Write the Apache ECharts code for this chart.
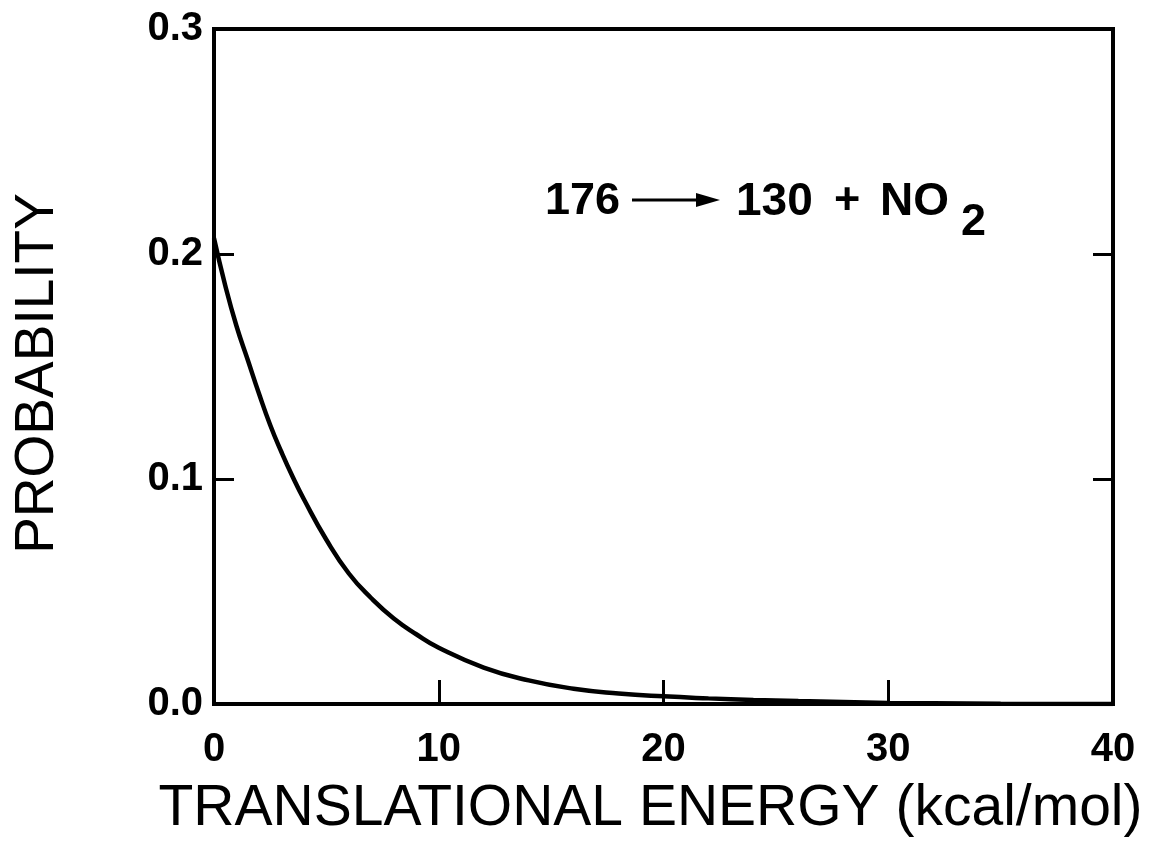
<!DOCTYPE html>
<html>
<head>
<meta charset="utf-8">
<script src="https://cdn.jsdelivr.net/npm/echarts@6/dist/echarts.min.js"></script>
<style>html,body{margin:0;padding:0;background:#fff}#c{width:1149px;height:843px}</style>
</head>
<body>
<div id="c"></div>
<script>
// Data
const energy = [0, 0.5, 1, 1.5, 2, 2.5, 3, 3.5, 4, 5, 6, 7, 8, 9, 10, 12, 14, 16, 18, 20, 22, 24, 26, 28, 30, 32, 35, 40];
const probability = [0.207, 0.186, 0.168, 0.153, 0.138, 0.124, 0.112, 0.101, 0.091, 0.073, 0.058, 0.047, 0.038, 0.031, 0.025, 0.0162, 0.0105, 0.0068, 0.0047, 0.0034, 0.0025, 0.0018, 0.0013, 0.0009, 0.0005, 0.0003, 0.0001, 0];
const xTicks = [0, 10, 20, 30, 40];
const yTicks = [0.0, 0.1, 0.2, 0.3];
const xTitle = 'TRANSLATIONAL ENERGY (kcal/mol)';
const yTitle = 'PROBABILITY';

const chart = echarts.init(document.getElementById('c'), null, {renderer: 'canvas'});
const F = 'Liberation Sans, Arial, Helvetica, sans-serif';
const pts = energy.map((e, i) => [e, probability[i]]);

chart.setOption({
  animation: false,
  backgroundColor: '#fff',
  grid: {left: 214, right: 36, top: 29, bottom: 137, show: true, borderColor: '#000', borderWidth: 4, backgroundColor: 'transparent'},
  xAxis: {
    type: 'value', min: xTicks[0], max: xTicks[xTicks.length - 1], interval: 10,
    axisLine: {show: false},
    axisTick: {show: true, inside: true, length: 24, lineStyle: {color: '#000', width: 3}},
    splitLine: {show: false},
    axisLabel: {color: '#000', fontFamily: F, fontWeight: 'bold', fontSize: 40, margin: 26},
    name: xTitle, nameLocation: 'middle', nameGap: 77,
    nameTextStyle: {color: '#000', fontFamily: F, fontSize: 57, padding: [0, 26, 0, 0]}
  },
  yAxis: [{
    type: 'value', min: yTicks[0], max: yTicks[yTicks.length - 1], interval: 0.1,
    axisLine: {show: false},
    axisTick: {show: true, inside: true, length: 20, lineStyle: {color: '#000', width: 3}},
    splitLine: {show: false},
    axisLabel: {color: '#000', fontFamily: F, fontWeight: 'bold', fontSize: 40, margin: 11, formatter: v => v.toFixed(1)},
    name: yTitle, nameLocation: 'middle', nameGap: 149,
    nameTextStyle: {color: '#000', fontFamily: F, fontSize: 55, padding: [0, 14, 0, 0]}
  }, {
    type: 'value', position: 'right', min: yTicks[0], max: yTicks[yTicks.length - 1], interval: 0.1,
    axisLine: {show: false},
    axisTick: {show: true, inside: true, length: 20, lineStyle: {color: '#000', width: 3}},
    axisLabel: {show: false}, splitLine: {show: false}
  }],
  graphic: [
    {type: 'text', left: 545, top: 179, style: {text: '176', font: 'bold 45px ' + F, fill: '#000'}},
    {type: 'line', shape: {x1: 632, y1: 200, x2: 700, y2: 200}, style: {stroke: '#000', lineWidth: 3}},
    {type: 'polygon', shape: {points: [[696, 193], [720, 200], [696, 207]]}, style: {fill: '#000'}},
    {type: 'text', left: 736, top: 179, style: {text: '130', font: 'bold 46px ' + F, fill: '#000'}},
    {type: 'text', left: 834, top: 179, style: {text: '+', font: 'bold 45px ' + F, fill: '#000'}},
    {type: 'text', left: 880, top: 179, style: {text: 'NO', font: 'bold 46px ' + F, fill: '#000'}},
    {type: 'text', left: 961, top: 200, style: {text: '2', font: 'bold 45px ' + F, fill: '#000'}}
  ],
  series: [{
    type: 'line', data: pts, smooth: 0.5, showSymbol: false,
    lineStyle: {color: '#000', width: 4.5}
  }]
});
</script>
</body>
</html>
